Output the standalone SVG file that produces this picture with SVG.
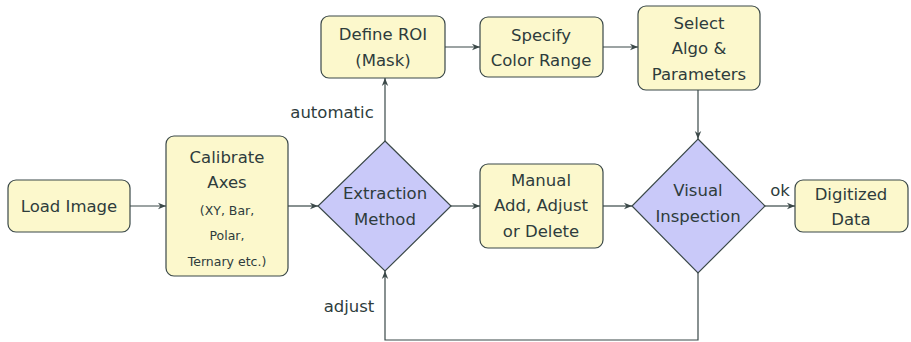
<svg xmlns="http://www.w3.org/2000/svg" width="911" height="342" viewBox="0 0 911 342">
<defs>
<style>
.box{fill:#fcf8cc;stroke:#3a4848;stroke-width:1.2}
.dia{fill:#c9c9f9;stroke:#3a4848;stroke-width:1.2}
.t{font-family:"DejaVu Sans","Liberation Sans",sans-serif;font-size:16.5px;fill:#2e3c3c;text-anchor:middle}
.s{font-size:12.5px}
.ln{fill:none;stroke:#3a4848;stroke-width:1.2}
</style>
<marker id="ah" viewBox="0 0 10 10" refX="10" refY="5" markerWidth="8" markerHeight="8" markerUnits="userSpaceOnUse" orient="auto">
<path d="M0,1 L10,5 L0,9 L3,5 Z" fill="#3a4848"/>
</marker>
</defs>
<rect width="911" height="342" fill="#ffffff"/>
<g id="connectors">
<line class="ln" x1="130" y1="206" x2="166" y2="206" marker-end="url(#ah)"/>
<line class="ln" x1="288" y1="206" x2="318" y2="206" marker-end="url(#ah)"/>
<line class="ln" x1="451" y1="206" x2="480" y2="206" marker-end="url(#ah)"/>
<line class="ln" x1="603" y1="206" x2="632" y2="206" marker-end="url(#ah)"/>
<line class="ln" x1="765" y1="206" x2="795" y2="206" marker-end="url(#ah)"/>
<line class="ln" x1="385" y1="141" x2="385" y2="78" marker-end="url(#ah)"/>
<line class="ln" x1="445" y1="47" x2="480" y2="47" marker-end="url(#ah)"/>
<line class="ln" x1="603" y1="47" x2="638" y2="47" marker-end="url(#ah)"/>
<line class="ln" x1="698" y1="90" x2="698" y2="139" marker-end="url(#ah)"/>
<polyline class="ln" points="698,273 698,340 385,340 385,271" marker-end="url(#ah)"/>
<text class="t" x="332" y="118">automatic</text>
<text class="t" x="349" y="312">adjust</text>
<text class="t" x="780" y="196">ok</text>
</g>
<g id="load">
<rect class="box" x="8" y="180" width="122" height="52" rx="8"/>
<text class="t" x="69" y="212">Load Image</text>
</g>
<g id="calibrate">
<rect class="box" x="166" y="136" width="122" height="140" rx="8"/>
<text class="t" x="227" y="163">Calibrate</text>
<text class="t" x="227" y="188">Axes</text>
<text class="t s" x="227" y="215">(XY, Bar,</text>
<text class="t s" x="227" y="240">Polar,</text>
<text class="t s" x="227" y="266">Ternary etc.)</text>
</g>
<g id="extraction">
<polygon class="dia" points="385,141 451,206 385,271 318,206"/>
<text class="t" x="385" y="199">Extraction</text>
<text class="t" x="385" y="225">Method</text>
</g>
<g id="roi">
<rect class="box" x="321" y="16" width="124" height="62" rx="8"/>
<text class="t" x="383" y="40">Define ROI</text>
<text class="t" x="383" y="66">(Mask)</text>
</g>
<g id="color">
<rect class="box" x="480" y="17" width="123" height="60" rx="8"/>
<text class="t" x="541" y="41">Specify</text>
<text class="t" x="541" y="66">Color Range</text>
</g>
<g id="algo">
<rect class="box" x="638" y="6" width="122" height="84" rx="8"/>
<text class="t" x="699" y="29">Select</text>
<text class="t" x="699" y="54">Algo &amp;</text>
<text class="t" x="699" y="80">Parameters</text>
</g>
<g id="manual">
<rect class="box" x="480" y="164" width="123" height="84" rx="8"/>
<text class="t" x="541" y="186">Manual</text>
<text class="t" x="541" y="211">Add, Adjust</text>
<text class="t" x="541" y="237">or Delete</text>
</g>
<g id="visual">
<polygon class="dia" points="698,139 765,206 698,273 632,206"/>
<text class="t" x="698" y="196">Visual</text>
<text class="t" x="698" y="222">Inspection</text>
</g>
<g id="digitized">
<rect class="box" x="795" y="180" width="113" height="52" rx="8"/>
<text class="t" x="851" y="200">Digitized</text>
<text class="t" x="851" y="225">Data</text>
</g>
</svg>
